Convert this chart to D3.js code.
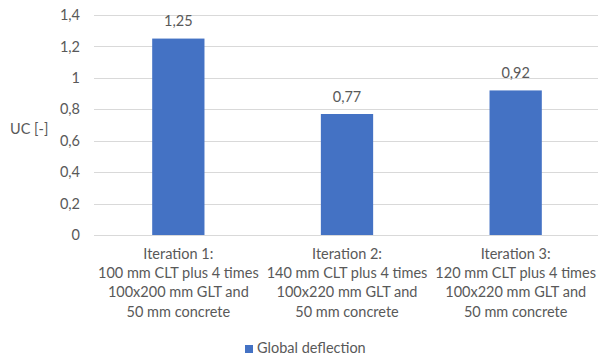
<!DOCTYPE html>
<html>
<head>
<meta charset="utf-8">
<script src="https://cdn.jsdelivr.net/npm/d3@7/dist/d3.min.js"></script>
<style>
  body { margin: 0; background: #fff; }
  svg { display: block; font-family: Lato, "Open Sans", sans-serif; }
</style>
</head>
<body>
<svg id="chart" width="598" height="359"></svg>
<script>
// Unity check for global deflection per design iteration
const categories = [
  ["Iteration 1:", "100 mm CLT plus 4 times", "100x200 mm GLT and", "50 mm concrete"],
  ["Iteration 2:", "140 mm CLT plus 4 times", "100x220 mm GLT and", "50 mm concrete"],
  ["Iteration 3:", "120 mm CLT plus 4 times", "100x220 mm GLT and", "50 mm concrete"]
];
const values = [1.25, 0.77, 0.92];
const yTicks = [0, 0.2, 0.4, 0.6, 0.8, 1, 1.2, 1.4];
const seriesName = "Global deflection";
const axisTitle = "UC [-]";

const svg = d3.select("#chart");
const textColor = "#595959";
const barColor = "#4472C4";
const gridColor = "#d9d9d9";
const fontSize = 14.5;
const comma = v => String(v).replace(".", ",");

const x = d3.scaleBand()
  .domain(d3.range(categories.length))
  .range([94, 600])
  .paddingInner(0.69)
  .paddingOuter(0.345);

const y = d3.scaleLinear().domain([0, 1.4]).range([235, 15]);

// Horizontal gridlines
svg.append("g")
  .selectAll("line")
  .data(yTicks)
  .join("line")
  .attr("x1", 94).attr("x2", 598)
  .attr("y1", d => Math.round(y(d)) + 0.5)
  .attr("y2", d => Math.round(y(d)) + 0.5)
  .attr("stroke", gridColor)
  .attr("stroke-width", 1);

// Y axis tick labels
const yAxis = d3.axisLeft(y).tickValues(yTicks).tickFormat(comma).tickSize(0).tickPadding(0);
const gy = svg.append("g").attr("transform", "translate(80,0)").call(yAxis);
gy.select(".domain").remove();
gy.selectAll("text")
  .attr("fill", textColor)
  .attr("font-size", fontSize)
  .attr("font-family", "Lato, 'Open Sans', sans-serif");

// Axis title
svg.append("text")
  .attr("x", 10).attr("y", 130)
  .attr("dominant-baseline", "middle")
  .attr("fill", textColor)
  .attr("font-size", fontSize)
  .text(axisTitle);

// Bars
svg.append("g")
  .selectAll("rect")
  .data(values)
  .join("rect")
  .attr("x", (d, i) => x(i))
  .attr("width", x.bandwidth())
  .attr("y", d => y(d))
  .attr("height", d => y(0) - y(d))
  .attr("fill", barColor);

// Data labels
svg.append("g")
  .selectAll("text")
  .data(values)
  .join("text")
  .attr("x", (d, i) => x(i) + x.bandwidth() / 2)
  .attr("y", d => y(d) - 16)
  .attr("text-anchor", "middle")
  .attr("dominant-baseline", "middle")
  .attr("fill", textColor)
  .attr("font-size", fontSize)
  .text(d => comma(d));

// Category labels
const catG = svg.append("g")
  .selectAll("text")
  .data(categories)
  .join("text")
  .attr("x", (d, i) => x(i) + x.bandwidth() / 2)
  .attr("y", 255)
  .attr("text-anchor", "middle")
  .attr("fill", textColor)
  .attr("font-size", fontSize);
catG.selectAll("tspan")
  .data(d => d)
  .join("tspan")
  .attr("x", function () { return d3.select(this.parentNode).attr("x"); })
  .attr("dy", (d, j) => j === 0 ? 0 : 19.3)
  .attr("dominant-baseline", "middle")
  .text(d => d);

// Legend
const legend = svg.append("g");
legend.append("rect")
  .attr("x", 245).attr("y", 345)
  .attr("width", 8).attr("height", 8)
  .attr("fill", barColor);
legend.append("text")
  .attr("x", 257).attr("y", 349.5)
  .attr("dominant-baseline", "middle")
  .attr("fill", textColor)
  .attr("font-size", fontSize)
  .text(seriesName);
</script>
</body>
</html>
